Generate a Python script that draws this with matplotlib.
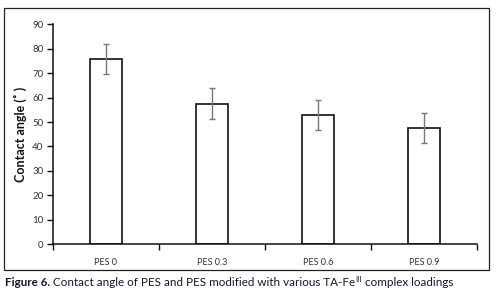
import numpy as np
import matplotlib.pyplot as plt
from matplotlib.patches import Rectangle

categories = ['PES 0', 'PES 0.3', 'PES 0.6', 'PES 0.9']
contact_angle = [76.0, 57.6, 52.9, 47.6]
errors = [6.2, 6.2, 6.2, 6.2]

plt.rcParams['font.family'] = ['Lato', 'DejaVu Sans']

W, H = 497, 292
fig = plt.figure(figsize=(W / 100, H / 100), dpi=100)

# outer frame around the chart
fig.patches.append(Rectangle((4 / W, 1 - 270 / H), 485 / W, 262 / H,
                             transform=fig.transFigure, fill=False,
                             edgecolor='#222222', linewidth=0.9))

ax = fig.add_axes([53 / W, 1 - 244 / H, 424 / W, 219.5 / H])
x = np.arange(len(categories))
ax.bar(x, contact_angle, width=0.31, color='white', edgecolor='#111111',
       linewidth=1.2, zorder=2)
ax.errorbar(x, contact_angle, yerr=errors, fmt='none', ecolor='#777777',
            elinewidth=1.0, capsize=2.5, capthick=1.0, zorder=3)

ax.set_xlim(-0.5, len(categories) - 0.5)
ax.set_ylim(0, 90)
ax.set_yticks(np.arange(0, 91, 10))
ax.set_xticks(x)
ax.set_xticklabels(categories)
ax.set_xticks(np.arange(-0.5, len(categories), 1), minor=True)
ax.tick_params(axis='x', which='major', length=0, labelsize=6.5, pad=10,
               labelcolor='#333333')
ax.tick_params(axis='x', which='minor', length=4, width=1, direction='out',
               color='#111111')
ax.tick_params(axis='y', length=4, width=1, direction='out', labelsize=7,
               labelcolor='#333333', color='#111111', pad=3)
ax.spines['right'].set_visible(False)
ax.spines['top'].set_visible(False)
ax.spines['left'].set_linewidth(1.1)
ax.spines['bottom'].set_linewidth(1.1)
ax.spines['left'].set_color('#111111')
ax.spines['bottom'].set_color('#111111')

fig.text(20 / W, 1 - 134 / H, 'Contact angle (\u02da )', rotation=90,
         ha='center', va='center', fontsize=9, fontweight='bold',
         color='#111111')

# caption: bold lead-in, body, superscript III
fig.canvas.draw()
r = fig.canvas.get_renderer()
cap = dict(fontsize=8.4, color='#151530', va='baseline')
base = 1 - 285.5 / H
t1 = fig.text(5 / W, base, 'Figure 6.', fontweight='bold', **cap)
x0 = t1.get_window_extent(renderer=r).x1 + 3
t2 = fig.text(x0 / W, base,
              'Contact angle of PES and PES modified with various TA-Fe', **cap)
x0 = t2.get_window_extent(renderer=r).x1 + 0.5
t3 = fig.text(x0 / W, base + 4 / H, 'III', fontsize=5.5, color='#151530',
              va='baseline')
x0 = t3.get_window_extent(renderer=r).x1
fig.text(x0 / W, base, ' complex loadings', **cap)

fig.savefig('out.png', dpi=100)
